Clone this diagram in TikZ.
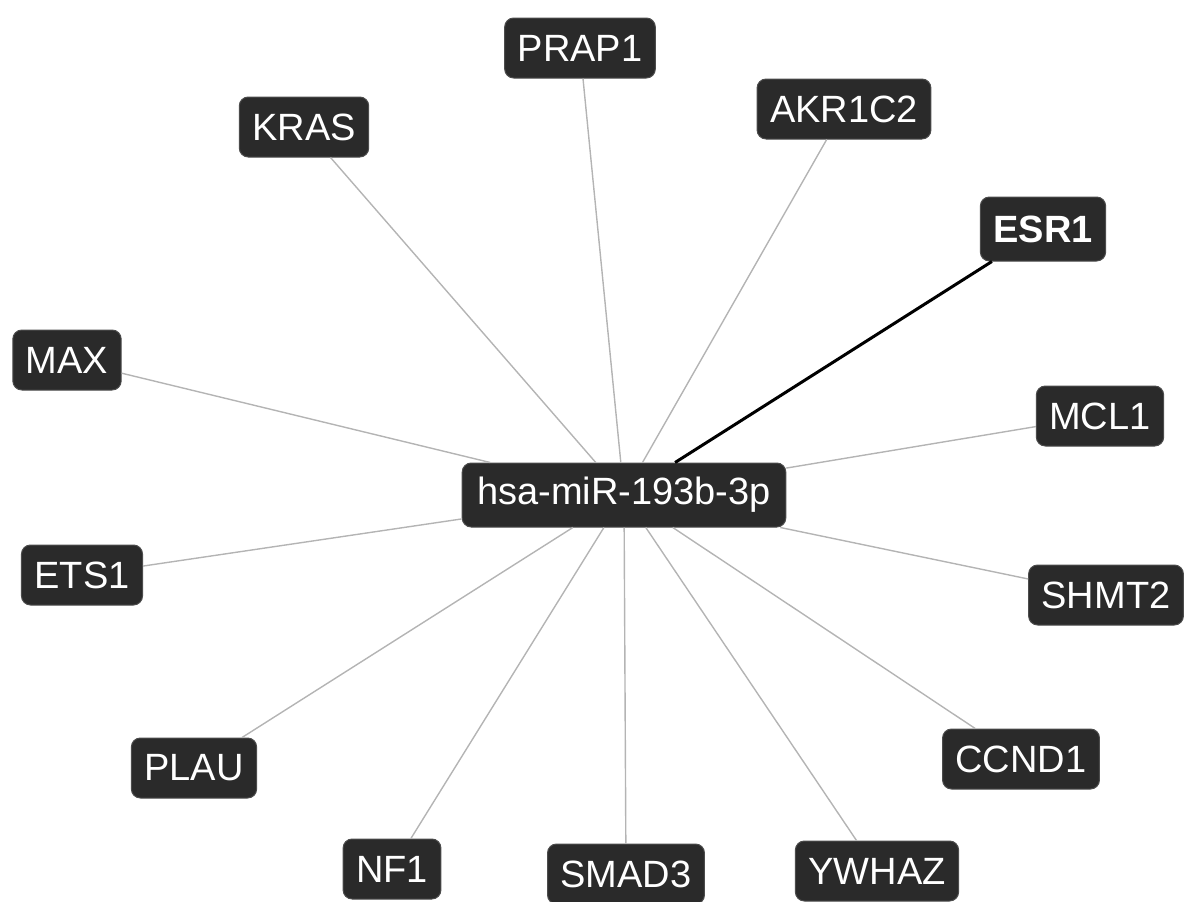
\documentclass[tikz,border=0pt]{standalone}
\usepackage{fontspec}
\setmainfont{Liberation Sans}
\definecolor{boxfill}{HTML}{2A2A2A}
\definecolor{edgegray}{HTML}{B4B4B4}
\begin{document}
\begin{tikzpicture}[x=1pt,y=-1pt,
  gene/.style={draw=black!70, line width=1pt, fill=boxfill, text=white, rounded corners=9pt,
    font=\fontsize{38}{40}\selectfont, inner xsep=13pt, inner ysep=0pt, minimum height=60pt},
  edge/.style={draw=edgegray, line width=1.4pt},
  hedge/.style={draw=black, line width=3pt}]
\useasboundingbox (0,0) rectangle (1184,902);
\node[gene, minimum height=64pt, inner xsep=15pt] (c) at (624,495) {hsa-miR-193b-3p};
\node[gene] (prap1) at (580,48) {PRAP1};
\node[gene] (kras) at (304,127) {KRAS};
\node[gene] (akr) at (844,109) {AKR1C2};
\node[gene, minimum height=64pt, font=\fontsize{38}{40}\selectfont\bfseries] (esr1) at (1043,229) {ESR1};
\node[gene] (max) at (67,360) {MAX};
\node[gene] (mcl1) at (1100,416) {MCL1};
\node[gene] (ets1) at (82,575) {ETS1};
\node[gene] (shmt2) at (1106,595) {SHMT2};
\node[gene] (plau) at (194,768) {PLAU};
\node[gene] (ccnd1) at (1021,759) {CCND1};
\node[gene] (nf1) at (392,869) {NF1};
\node[gene] (smad3) at (626,874) {SMAD3};
\node[gene] (ywhaz) at (877,871) {YWHAZ};
\foreach \n in {prap1,kras,akr,max,mcl1,ets1,shmt2,plau,ccnd1,nf1,smad3,ywhaz}
  \draw[edge] (c) -- (\n);
\draw[hedge] (c) -- (esr1);
\end{tikzpicture}
\end{document}
